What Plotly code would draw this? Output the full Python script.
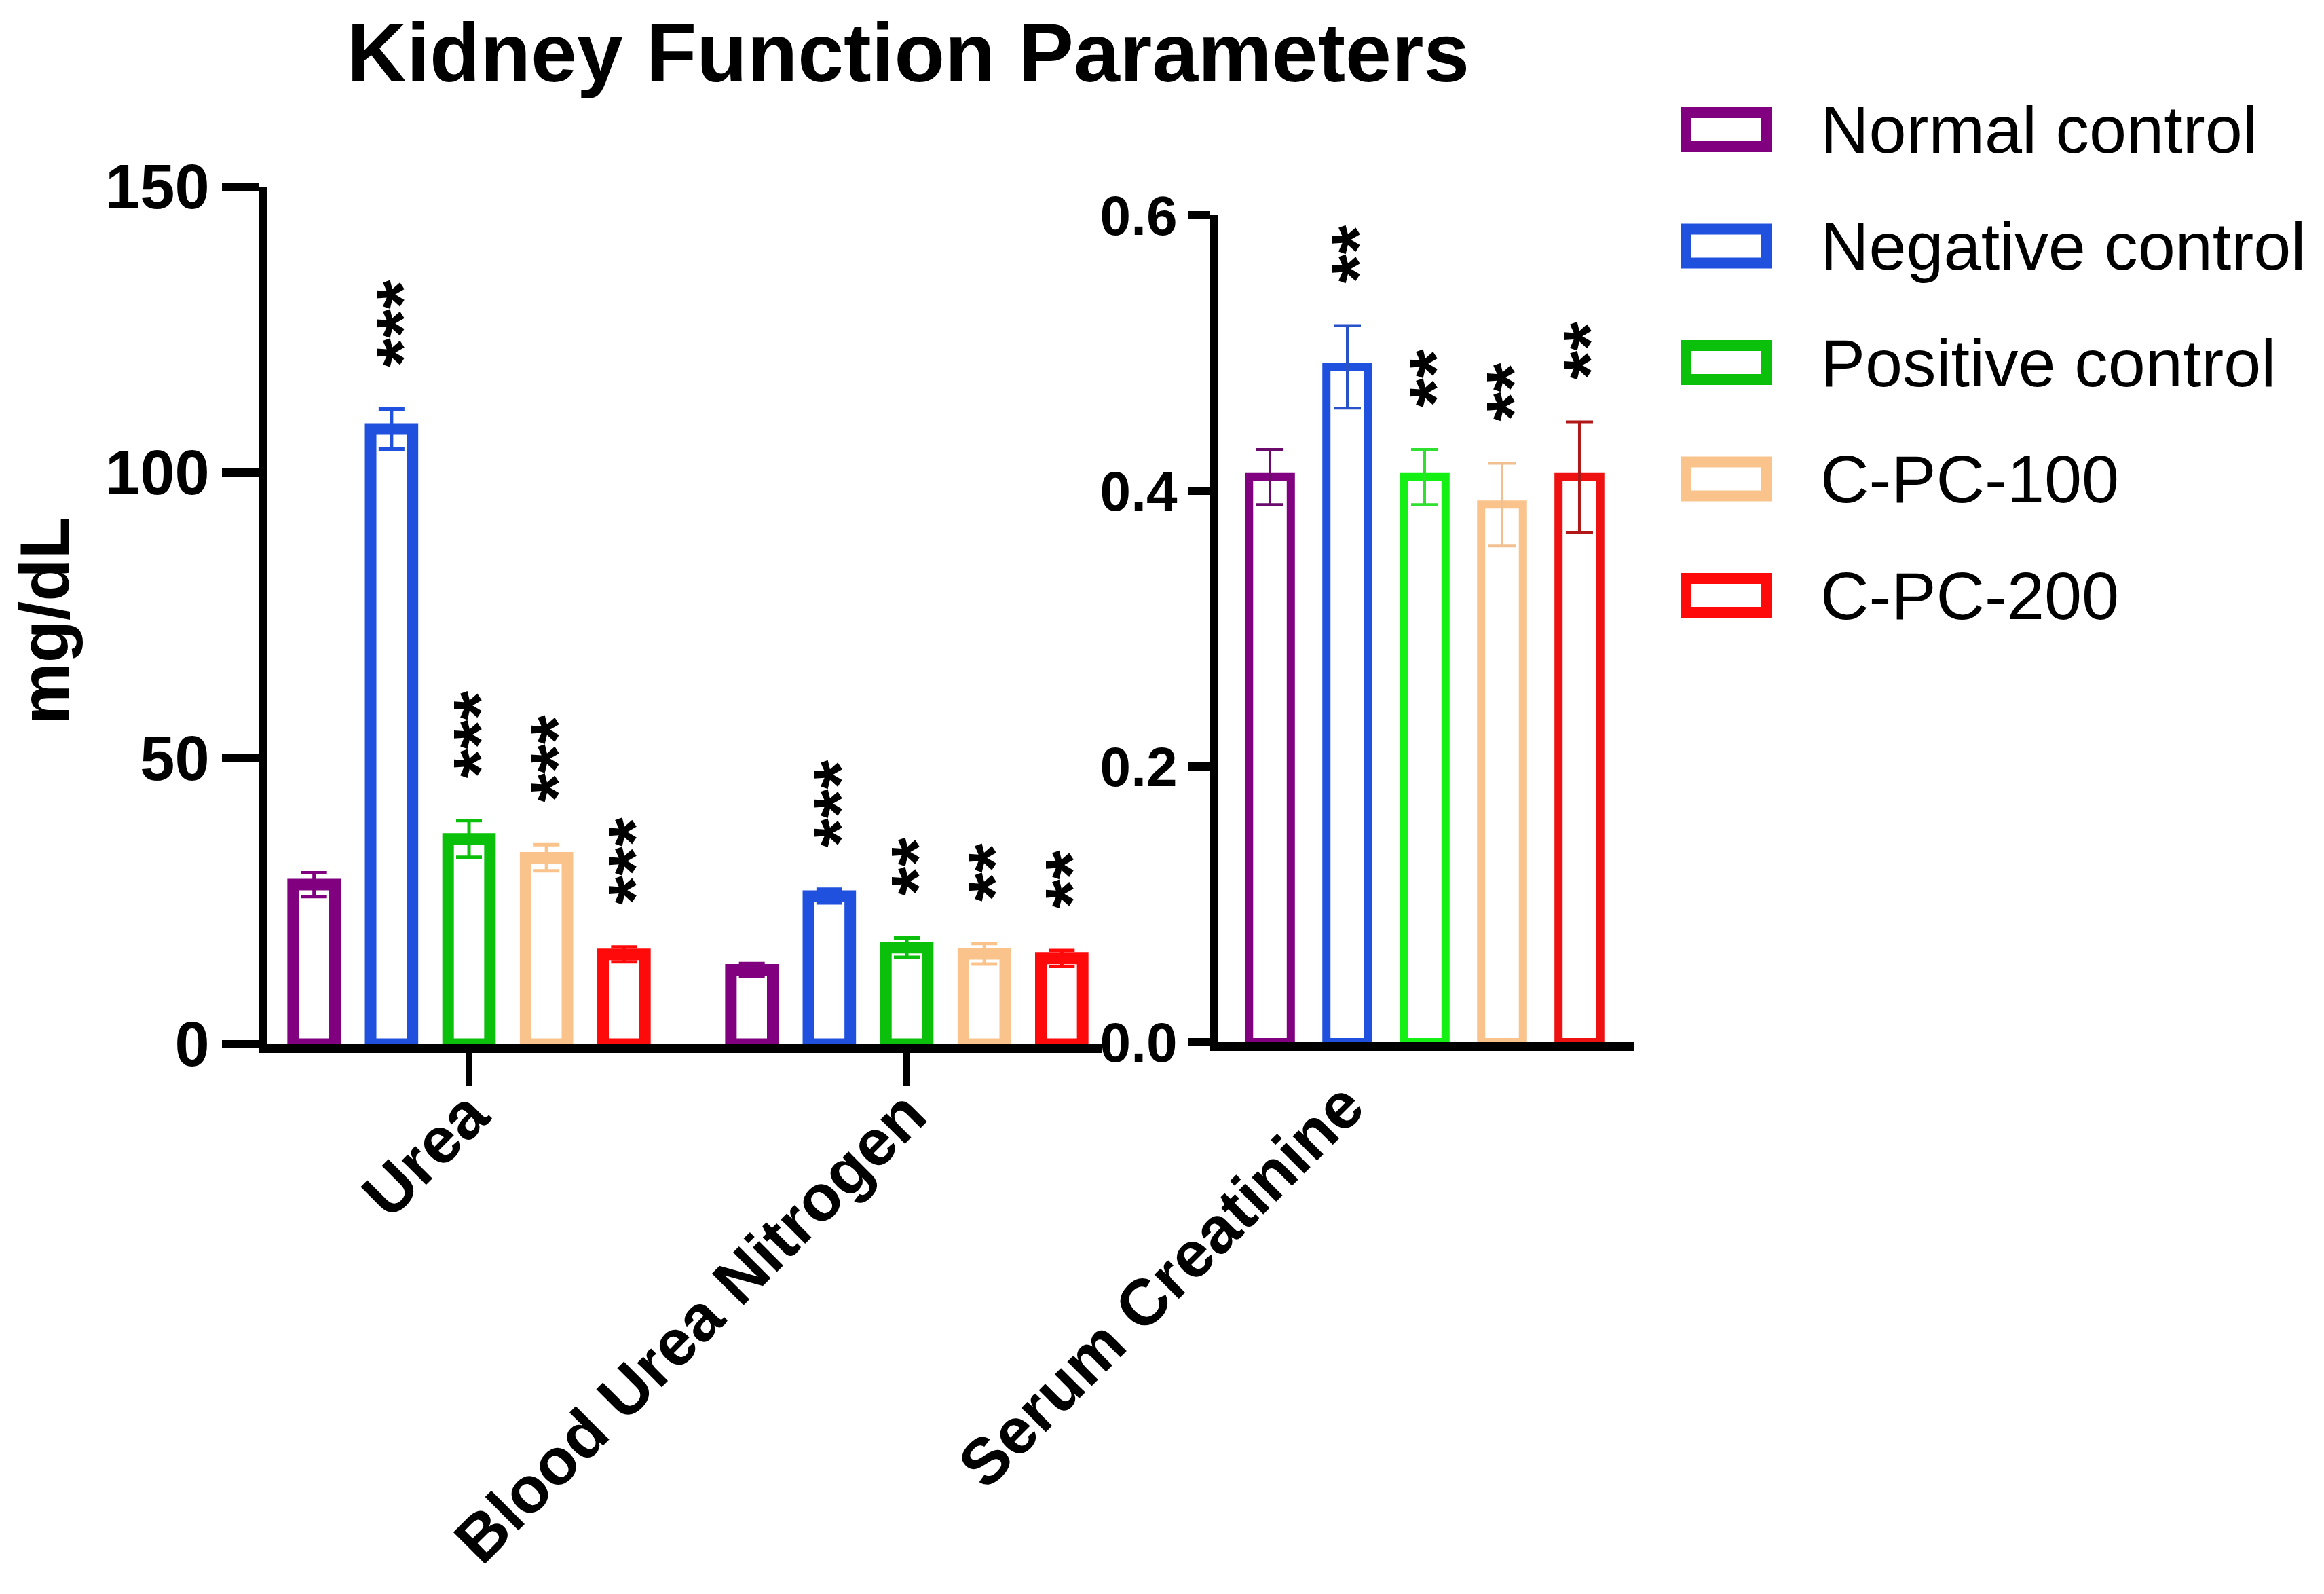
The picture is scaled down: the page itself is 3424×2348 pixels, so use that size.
import plotly.graph_objects as go

W, H = 3424, 2348

# ---------------- data ----------------
groups = ["Normal control", "Negative control", "Positive control", "C-PC-100", "C-PC-200"]
left_categories = ["Urea", "Blood Urea Nitrogen"]
right_categories = ["Serum Creatinine"]

urea_mean = [27.9, 107.6, 35.9, 32.6, 15.7]
urea_sem = [2.1, 3.5, 3.2, 2.3, 1.3]
bun_mean = [13.0, 25.9, 16.9, 15.8, 15.0]
bun_sem = [1.1, 1.2, 1.7, 1.8, 1.4]
creat_mean = [0.41, 0.49, 0.41, 0.39, 0.41]
creat_sem = [0.02, 0.03, 0.02, 0.03, 0.04]

urea_sig = ["", "***", "***", "***", "***"]
bun_sig = ["", "***", "**", "**", "**"]
creat_sig = ["", "**", "**", "**", "**"]

left_ticks = [0, 50, 100, 150]
right_ticks = [0.0, 0.2, 0.4, 0.6]

# ---------------- style ----------------
colors_left = ["#800080", "#1F51DE", "#0BC00B", "#FAC38C", "#FF0A0A"]
colors_right = ["#800080", "#1F51DE", "#14F014", "#FAC38C", "#EE1111"]
err_right = ["#6A0A6A", "#2A52C8", "#30E030", "#F2C090", "#B01818"]
colors_legend = ["#800080", "#1F51DE", "#0BC00B", "#FAC38C", "#FF0A0A"]
FONT = "Liberation Sans, Arial, sans-serif"

BARGAP = 0.115
BARGROUPGAP = 0.46
n = len(groups)
slot = (1 - BARGAP) / n


def px_x(p):
    return p / W


def px_y(p):
    return 1 - p / H


fig = go.Figure()

for i, g in enumerate(groups):
    fig.add_trace(go.Bar(
        x=left_categories, y=[urea_mean[i], bun_mean[i]],
        error_y=dict(type="data", array=[urea_sem[i], bun_sem[i]], symmetric=True,
                     color=colors_left[i], thickness=5, width=19),
        marker=dict(color="white", line=dict(color=colors_left[i], width=17)),
        name=g, offsetgroup=str(i), showlegend=False, xaxis="x", yaxis="y",
    ))
    fig.add_trace(go.Bar(
        x=right_categories, y=[creat_mean[i]],
        error_y=dict(type="data", array=[creat_sem[i]], symmetric=True,
                     color=err_right[i], thickness=4, width=20),
        marker=dict(color="white", line=dict(color=colors_right[i], width=12)),
        name=g, offsetgroup=str(i), showlegend=False, xaxis="x2", yaxis="y2",
    ))

annotations = []
STAR_FONT = dict(family=FONT, size=110, color="black", weight="bold")


def add_stars(sig, means, sems, ci, xref, yref):
    for i, s in enumerate(sig):
        if not s:
            continue
        annotations.append(dict(
            x=ci + (i - (n - 1) / 2) * slot, y=means[i] + sems[i],
            xref=xref, yref=yref, text=s, showarrow=False, textangle=-90,
            xanchor="center", yanchor="bottom", yshift=60, xshift=14,
            font=STAR_FONT,
        ))


add_stars(urea_sig, urea_mean, urea_sem, 0, "x", "y")
add_stars(bun_sig, bun_mean, bun_sem, 1, "x", "y")
add_stars(creat_sig, creat_mean, creat_sem, 0, "x2", "y2")

# title
annotations.append(dict(
    x=px_x(1330), y=1, xref="paper", yref="paper", showarrow=False,
    text="Kidney Function Parameters", xanchor="center", yanchor="top",
    font=dict(family=FONT, size=122, color="black", weight="bold"),
))
# y-axis title
annotations.append(dict(
    x=px_x(58), y=px_y(906), xref="paper", yref="paper", showarrow=False,
    text="mg/dL", textangle=-90, xanchor="center", yanchor="middle",
    font=dict(family=FONT, size=102, color="black", weight="bold"),
))

# legend (drawn manually to get large outlined boxes)
shapes = []
for k, g in enumerate(groups):
    yc = 183 + k * 171.5
    shapes.append(dict(
        type="rect", xref="paper", yref="paper",
        x0=px_x(2476), x1=px_x(2595), y0=px_y(yc - 25), y1=px_y(yc + 25),
        line=dict(color=colors_legend[k], width=16), fillcolor="white",
    ))
    annotations.append(dict(
        x=px_x(2672), y=px_y(yc), xref="paper", yref="paper", showarrow=False,
        text=g, xanchor="left", yanchor="middle",
        font=dict(family=FONT, size=99, color="black"),
    ))

axis_common = dict(showgrid=False, zeroline=False, showline=True, linecolor="black",
                   automargin=False)

fig.update_layout(
    template="none",
    width=W, height=H,
    margin=dict(l=0, r=0, t=0, b=0, autoexpand=False),
    paper_bgcolor="white", plot_bgcolor="white",
    barmode="group", bargap=BARGAP, bargroupgap=BARGROUPGAP,
    showlegend=False,
    font=dict(family=FONT, color="black"),
    xaxis=dict(
        **axis_common, domain=[px_x(386), px_x(1616)], anchor="y",
        type="category", range=[-0.4605, 1.4465], linewidth=13,
        ticks="outside", ticklen=48, tickwidth=10, tickcolor="black",
        tickangle=-45, ticklabelstandoff=-52,
        tickfont=dict(family=FONT, size=96, weight="bold"),
    ),
    yaxis=dict(
        **axis_common, domain=[px_y(1530), px_y(267)], anchor="x",
        range=[0, 150], tickvals=left_ticks, linewidth=13,
        ticks="outside", ticklen=54, tickwidth=12, tickcolor="black",
        tickfont=dict(family=FONT, size=92, weight="bold"),
    ),
    xaxis2=dict(
        **axis_common, domain=[px_x(1786), px_x(2400)], anchor="y2",
        type="category", range=[-0.4736, 0.4798], linewidth=13,
        ticks="", ticklabelshift=-118, ticklabelstandoff=-14,
        tickangle=-45, tickfont=dict(family=FONT, size=96, weight="bold"),
    ),
    yaxis2=dict(
        **axis_common, domain=[px_y(1527), px_y(309)], anchor="x2",
        range=[0, 0.6], tickvals=right_ticks, tickformat=".1f", linewidth=11,
        ticks="outside", ticklen=32, tickwidth=12, tickcolor="black",
        tickfont=dict(family=FONT, size=82, weight="bold"),
    ),
    annotations=annotations,
    shapes=shapes,
)

fig.write_html("out.html")
